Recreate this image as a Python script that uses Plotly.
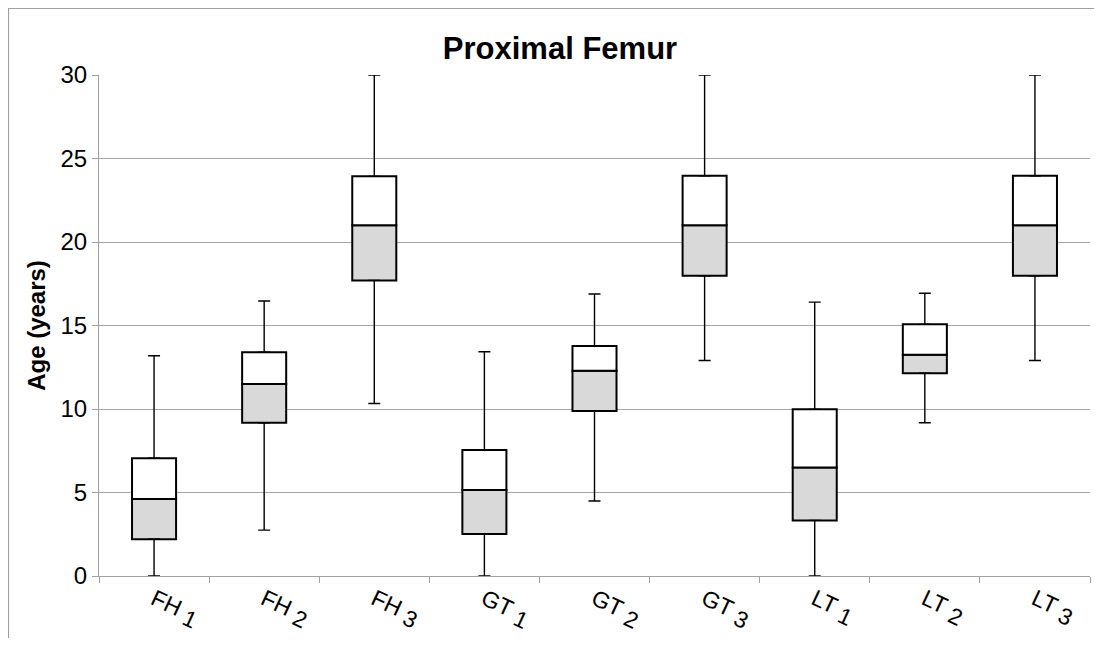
import plotly.graph_objects as go

groups = ["FH", "FH", "FH", "GT", "GT", "GT", "LT", "LT", "LT"]
indices = ["1", "2", "3", "1", "2", "3", "1", "2", "3"]
minimum = [0.0, 2.75, 10.33, 0.0, 4.49, 12.9, 0.0, 9.18, 12.9]
q1 = [2.2, 9.18, 17.7, 2.51, 9.88, 17.98, 3.33, 12.14, 17.98]
median = [4.61, 11.5, 21.0, 5.15, 12.29, 21.0, 6.49, 13.25, 21.0]
q3 = [7.05, 13.4, 23.93, 7.54, 13.77, 23.97, 9.98, 15.07, 23.97]
maximum = [13.19, 16.47, 30.0, 13.43, 16.89, 30.0, 16.4, 16.93, 30.0]
y_ticks = [0, 5, 10, 15, 20, 25, 30]

categories = [f"{g} <sub><span style='font-size:23px'>{i}</span></sub>"
              for g, i in zip(groups, indices)]

lower_h = [m - a for m, a in zip(median, q1)]
upper_h = [b - m for b, m in zip(q3, median)]
up_whisk = [mx - b for mx, b in zip(maximum, q3)]
low_whisk = [a - mn for a, mn in zip(q1, minimum)]

fig = go.Figure()

fig.add_trace(go.Scatter(
    x=categories, y=q3, mode="markers", marker=dict(size=1, opacity=0),
    error_y=dict(type="data", symmetric=False, array=up_whisk,
                 arrayminus=[0] * len(q3), color="black", thickness=1.4, width=6),
    cliponaxis=False, showlegend=False, hoverinfo="skip"))
fig.add_trace(go.Scatter(
    x=categories, y=q1, mode="markers", marker=dict(size=1, opacity=0),
    error_y=dict(type="data", symmetric=False, array=[0] * len(q1),
                 arrayminus=low_whisk, color="black", thickness=1.4, width=6),
    cliponaxis=False, showlegend=False, hoverinfo="skip"))

fig.add_trace(go.Bar(
    x=categories, y=lower_h, base=q1, width=0.4,
    marker=dict(color="#d9d9d9", line=dict(color="black", width=2)),
    showlegend=False, hoverinfo="skip"))
fig.add_trace(go.Bar(
    x=categories, y=upper_h, base=median, width=0.4,
    marker=dict(color="white", line=dict(color="black", width=2)),
    showlegend=False, hoverinfo="skip"))

W, H = 1086, 630
L, R, T, B = 91, 4, 67, 62
pw, ph = W - L - R, H - T - B

bx0 = (-L + 0.5) / pw
by1 = 1 + (T - 0.5) / ph
border_path = f"M {bx0},-0.5 L {bx0},{by1} L 1.2,{by1}"

fig.update_layout(
    width=W, height=H,
    margin=dict(l=L, r=R, t=T, b=B, autoexpand=False),
    paper_bgcolor="white", plot_bgcolor="white",
    barmode="overlay",
    font=dict(family="Liberation Sans, Arial, sans-serif", color="black"),
    title=dict(text="<b>Proximal Femur</b>", x=552 / W, xanchor="center",
               y=1 - 40 / H, yanchor="middle",
               font=dict(size=31, family="Liberation Sans, Arial, sans-serif")),
    xaxis=dict(type="category", tickangle=25, tickson="boundaries",
               ticks="outside", ticklen=6, tickcolor="#a0a0a0",
               showline=True, linecolor="#a0a0a0", linewidth=1,
               showgrid=False, tickfont=dict(size=23), automargin=False,
               range=[-0.5, 8.5]),
    yaxis=dict(range=[0, 30], tickvals=y_ticks, ticks="outside", ticklen=6,
               tickcolor="#a0a0a0", showline=True, linecolor="#a0a0a0",
               linewidth=1, showgrid=True, gridcolor="#a6a6a6", gridwidth=1,
               zeroline=False, tickfont=dict(size=24), automargin=False,
               title=dict(text="<b>Age (years)</b>", font=dict(size=24),
                          standoff=8)),
    shapes=[dict(type="path", xref="paper", yref="paper", path=border_path,
                 line=dict(color="#a0a0a0", width=1.2), layer="below")],
)

fig.write_html("out.html")
